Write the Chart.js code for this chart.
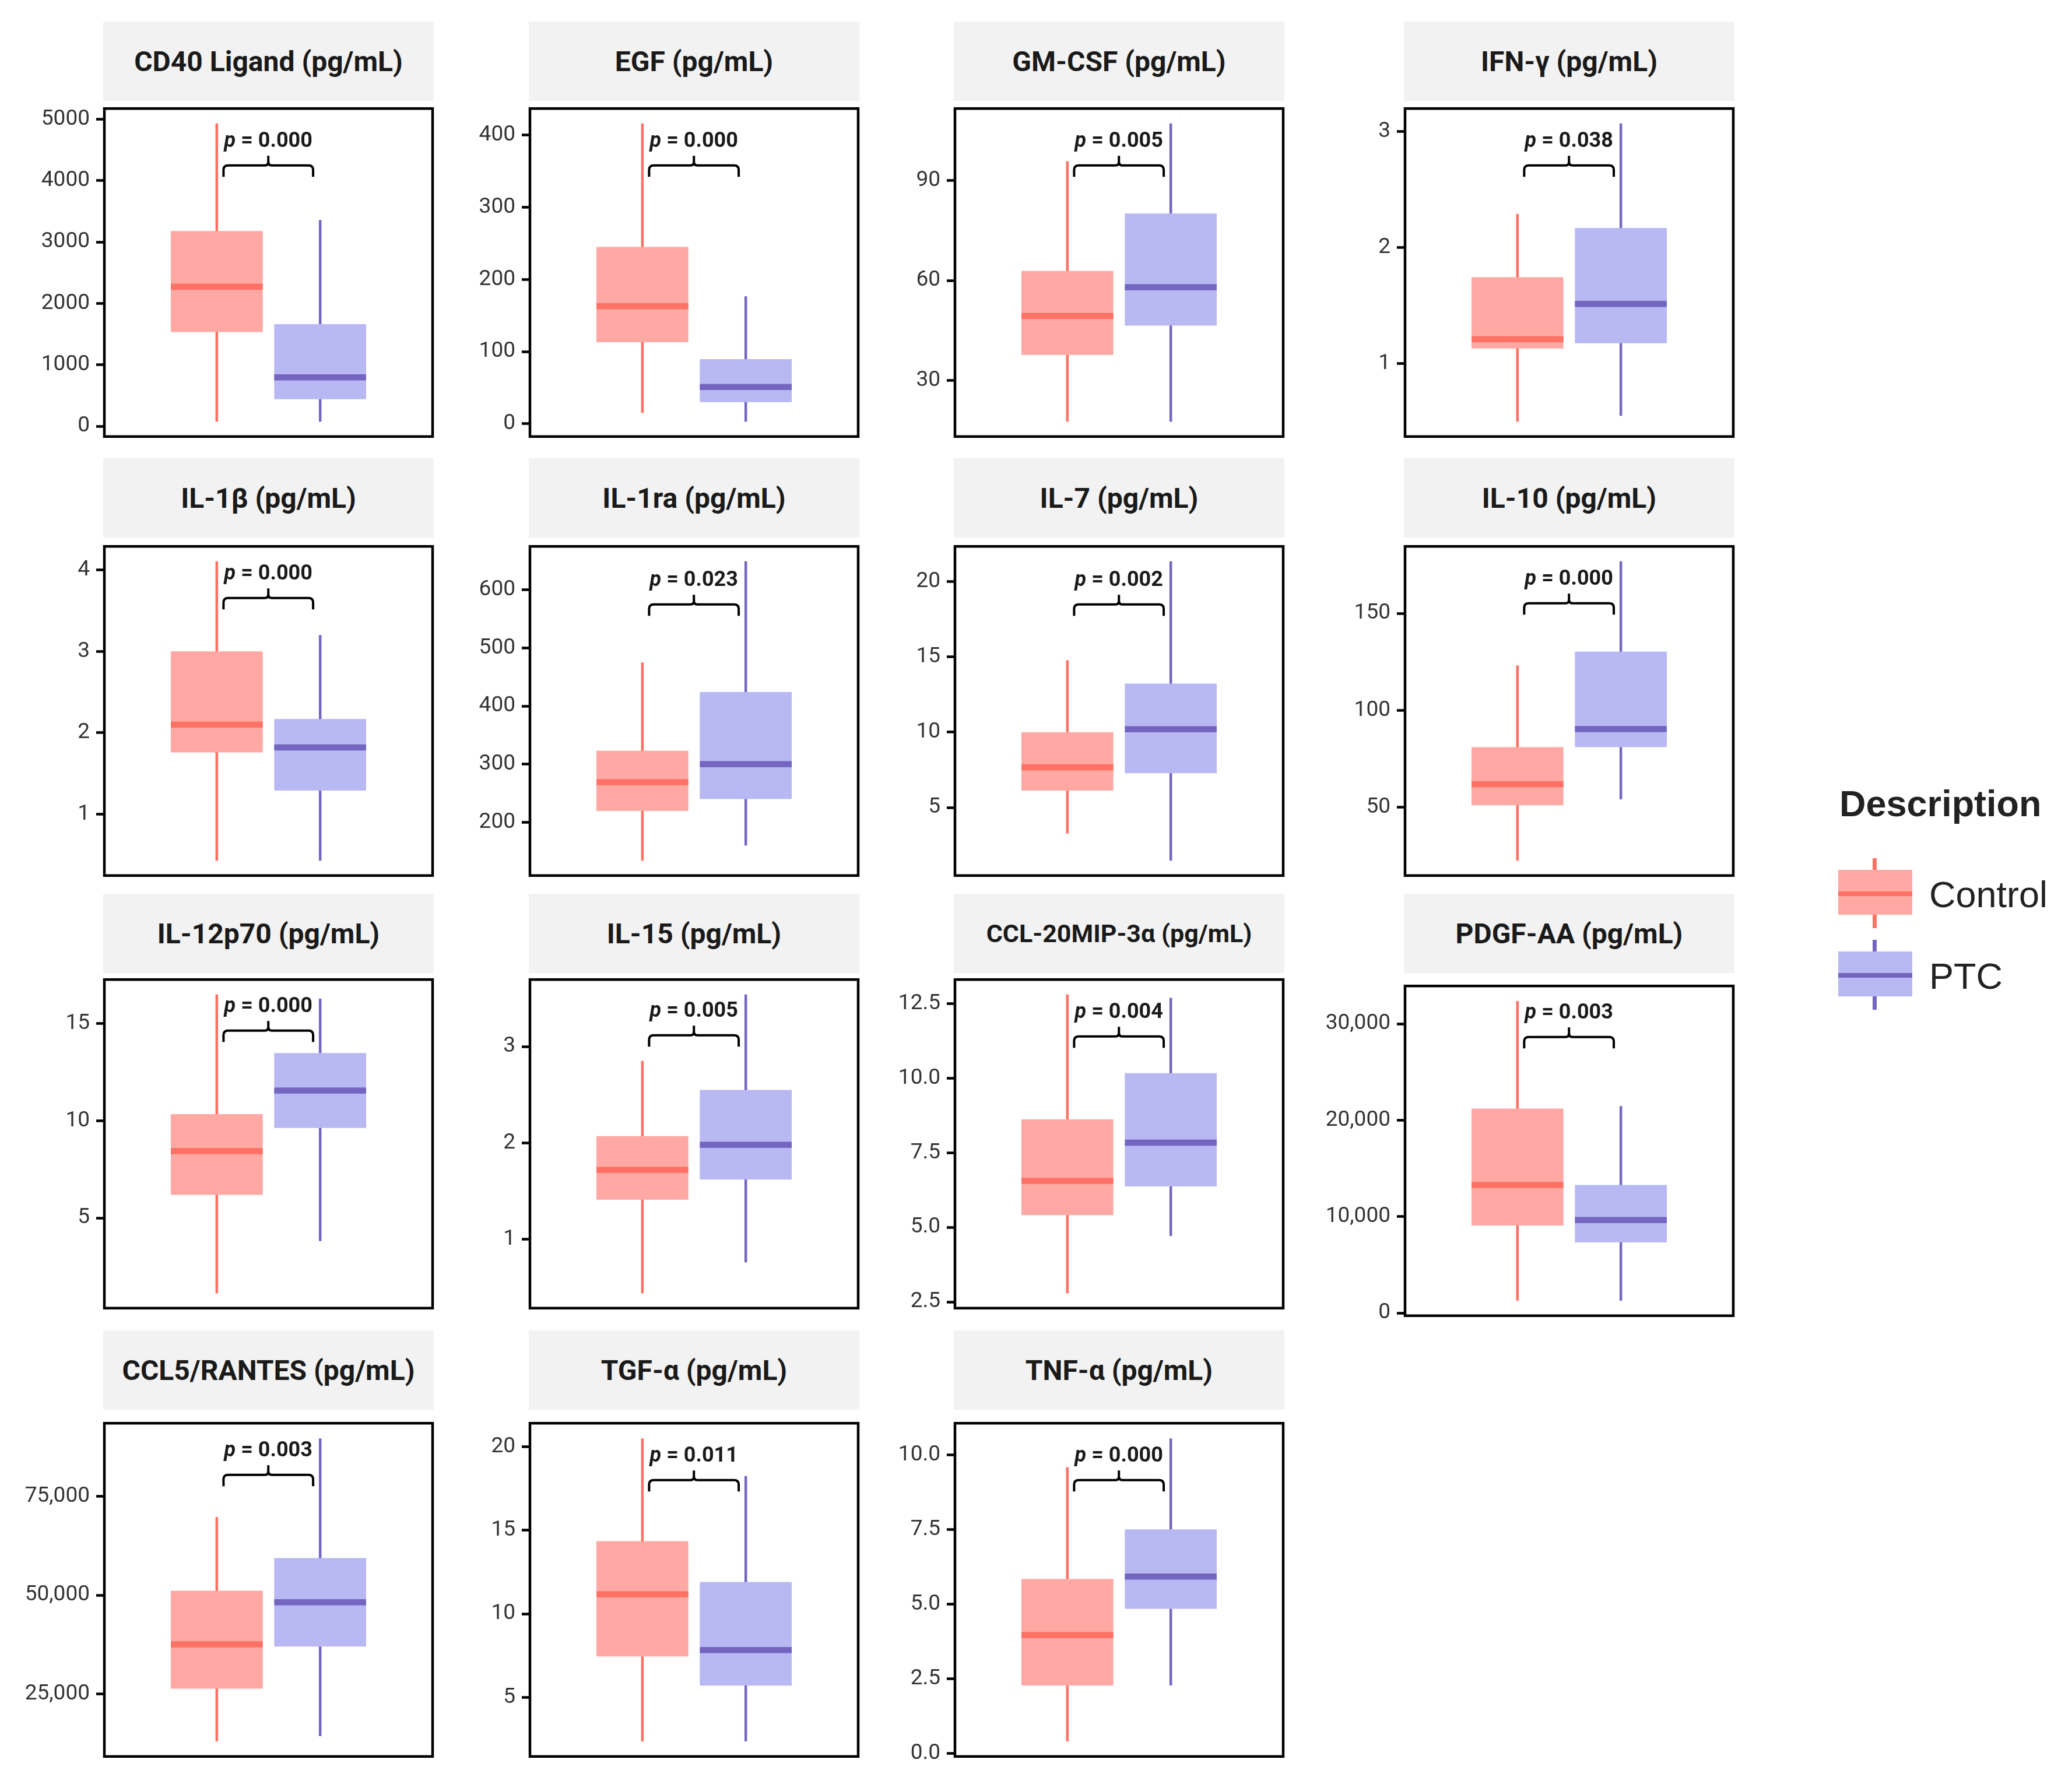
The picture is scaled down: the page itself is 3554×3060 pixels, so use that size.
<html>
<head>
<script src="https://cdn.jsdelivr.net/npm/chart.js@4.4.1/dist/chart.umd.min.js"></script>
<style>
  body { margin: 0; background: #fff; }
  #page { position: relative; width: 3554px; height: 3060px; background: #fff; overflow: hidden; }
  .strip { position: absolute; background: #f2f2f2; color: #1a1a1a; font-family: Roboto, sans-serif;
           font-weight: bold; font-size: 48px; display: flex; align-items: center; justify-content: center; white-space: nowrap; }
  canvas { position: absolute; }
  .lg { position: absolute; font-family: "Liberation Sans", Arial, sans-serif; color: #222; line-height: 63px; font-size: 63px; white-space: nowrap; }
  .key { position: absolute; }
</style>
</head>
<body>
<div id="page"></div>

<script>
// ---- data ----
var panelTitles = [
  'CD40 Ligand (pg/mL)', 'EGF (pg/mL)', 'GM-CSF (pg/mL)', 'IFN-γ (pg/mL)',
  'IL-1β (pg/mL)', 'IL-1ra (pg/mL)', 'IL-7 (pg/mL)', 'IL-10 (pg/mL)',
  'IL-12p70 (pg/mL)', 'IL-15 (pg/mL)', 'CCL-20MIP-3α (pg/mL)', 'PDGF-AA (pg/mL)',
  'CCL5/RANTES (pg/mL)', 'TGF-α (pg/mL)', 'TNF-α (pg/mL)'
];

var pValues = ['0.000', '0.000', '0.005', '0.038', '0.000', '0.023', '0.002', '0.000',
               '0.000', '0.005', '0.004', '0.003', '0.003', '0.011', '0.000'];

// [lower whisker, q1, median, q3, upper whisker]
var controlStats = [
  [75, 1534, 2272, 3178, 4930],
  [15, 113, 163, 245, 416],
  [17.7, 37.7, 49.4, 62.9, 95.8],
  [0.50, 1.13, 1.21, 1.745, 2.29],
  [0.43, 1.76, 2.10, 3.00, 4.106],
  [134, 219.5, 269, 323, 475],
  [3.27, 6.13, 7.67, 10.0, 14.78],
  [22.6, 51.1, 62.0, 81.1, 123.2],
  [1.13, 6.19, 8.44, 10.34, 16.49],
  [0.44, 1.41, 1.72, 2.07, 2.85],
  [2.79, 5.41, 6.56, 8.62, 12.81],
  [1270, 9080, 13280, 21210, 32370],
  [13000, 26350, 37570, 51150, 69820],
  [2.37, 7.45, 11.17, 14.35, 20.5],
  [0.41, 2.28, 3.97, 5.85, 9.59]
];

var ptcStats = [
  [75, 441, 796, 1663, 3356],
  [3, 30, 51, 89.5, 176.5],
  [17.7, 46.5, 58.0, 80.1, 107.1],
  [0.55, 1.176, 1.515, 2.17, 3.07],
  [0.43, 1.29, 1.82, 2.17, 3.20],
  [160, 240, 300, 424, 649],
  [1.48, 7.28, 10.2, 13.23, 21.34],
  [54.2, 81.1, 90.4, 130.3, 176.8],
  [3.81, 9.63, 11.55, 13.48, 16.28],
  [0.76, 1.62, 1.98, 2.55, 3.54],
  [4.71, 6.37, 7.84, 10.17, 12.70],
  [1270, 7320, 9640, 13280, 21460],
  [14330, 37000, 48220, 59410, 89730],
  [2.37, 5.70, 7.83, 11.91, 18.25],
  [2.28, 4.85, 5.93, 7.51, 10.56]
];

var tickValues = [
  [0, 1000, 2000, 3000, 4000, 5000],
  [0, 100, 200, 300, 400],
  [30, 60, 90],
  [1, 2, 3],
  [1, 2, 3, 4],
  [200, 300, 400, 500, 600],
  [5, 10, 15, 20],
  [50, 100, 150],
  [5, 10, 15],
  [1, 2, 3],
  [2.5, 5, 7.5, 10, 12.5],
  [0, 10000, 20000, 30000],
  [25000, 50000, 75000],
  [5, 10, 15, 20],
  [0, 2.5, 5, 7.5, 10]
];

var tickLabels = [
  ['0', '1000', '2000', '3000', '4000', '5000'],
  ['0', '100', '200', '300', '400'],
  ['30', '60', '90'],
  ['1', '2', '3'],
  ['1', '2', '3', '4'],
  ['200', '300', '400', '500', '600'],
  ['5', '10', '15', '20'],
  ['50', '100', '150'],
  ['5', '10', '15'],
  ['1', '2', '3'],
  ['2.5', '5.0', '7.5', '10.0', '12.5'],
  ['0', '10,000', '20,000', '30,000'],
  ['25,000', '50,000', '75,000'],
  ['5', '10', '15', '20'],
  ['0.0', '2.5', '5.0', '7.5', '10.0']
];

var groups = ['Control', 'PTC'];

// ---- look ----
var boxColors = ['#ffa8a4', '#b8b8f2'];
var lineColors = ['#ff7164', '#7466c0'];

// panel geometry (px in the 3554x3060 page)
var colLeft = [177, 907, 1636, 2408];
var stripW = 567;
var panelW = 563;
var rowTop = [183, 934, 1677, 2438];
var rowBottom = [752, 1505, 2247, 3016];
var stripTop = [37, 786, 1533, 2282];
var stripH = 136;
var axisW = 170;
var padV = 30;
// vertical nudge of the p-value bracket per panel (px)
var annotShift = [0, 0, 0, 0, -9, 2, 2, 0, -10, -2, 0, -10, -9, 0, 0];

var page = document.getElementById('page');

var boxExtras = {
  id: 'boxExtras',
  afterDatasetsDraw: function(chart, args, opts) {
    var ctx = chart.ctx, y = chart.scales.y;
    [0, 1].forEach(function(i) {
      var el = chart.getDatasetMeta(i).data[0];
      var py = y.getPixelForValue(opts.medians[i]);
      ctx.save();
      ctx.fillStyle = lineColors[i];
      ctx.fillRect(el.x - el.width / 2, py - 5.25, el.width, 10.5);
      ctx.restore();
    });
  },
  afterDraw: function(chart, args, opts) {
    var ctx = chart.ctx, a = chart.chartArea;
    var w = a.right - a.left;
    ctx.save();
    // panel border
    ctx.strokeStyle = '#000';
    ctx.lineWidth = 4.5;
    ctx.strokeRect(a.left, a.top, w, a.bottom - a.top);

    // bracket
    var x0 = a.left + 0.363 * w, x1 = a.left + 0.636 * w, xc = (x0 + x1) / 2;
    var t = a.top + opts.shift;
    ctx.lineWidth = 4;
    ctx.lineCap = 'butt';
    ctx.beginPath();
    ctx.moveTo(x0, t + 117);
    ctx.lineTo(x0, t + 105);
    ctx.quadraticCurveTo(x0, t + 97.5, x0 + 8, t + 97.5);
    ctx.lineTo(xc - 6, t + 97.5);
    ctx.quadraticCurveTo(xc, t + 97.5, xc, t + 91);
    ctx.lineTo(xc, t + 81);
    ctx.moveTo(xc, t + 91);
    ctx.quadraticCurveTo(xc, t + 97.5, xc + 6, t + 97.5);
    ctx.lineTo(x1 - 8, t + 97.5);
    ctx.quadraticCurveTo(x1, t + 97.5, x1, t + 105);
    ctx.lineTo(x1, t + 117);
    ctx.stroke();

    // p label
    var pFont = 'italic bold 36px Roboto';
    var restFont = 'bold 36px Roboto';
    var rest = ' = ' + opts.p;
    ctx.font = pFont;
    var wp = ctx.measureText('p').width;
    ctx.font = restFont;
    var wr = ctx.measureText(rest).width;
    var sx = xc - (wp + wr) / 2;
    ctx.fillStyle = '#1a1a1a';
    ctx.textBaseline = 'alphabetic';
    ctx.textAlign = 'left';
    ctx.font = pFont;
    ctx.fillText('p', sx, t + 66);
    ctx.font = restFont;
    ctx.fillText(rest, sx + wp, t + 66);
    ctx.restore();
  }
};

panelTitles.forEach(function(title, k) {
  var col = k % 4, row = Math.floor(k / 4);
  var left = colLeft[col] + 2;
  var top = rowTop[row], bottom = rowBottom[row];
  if (k === 11) { top = 1688; bottom = 2260; }
  var h = bottom - top;

  var strip = document.createElement('div');
  strip.className = 'strip';
  strip.style.left = colLeft[col] + 'px';
  strip.style.top = stripTop[row] + 'px';
  strip.style.width = stripW + 'px';
  strip.style.height = stripH + 'px';
  if (k === 10) strip.style.fontSize = '43px';
  strip.textContent = title;
  page.appendChild(strip);

  var cv = document.createElement('canvas');
  cv.width = axisW + panelW + 6;
  cv.height = h + 2 * padV;
  cv.style.left = (left - axisW) + 'px';
  cv.style.top = (top - padV) + 'px';
  page.appendChild(cv);

  var c = controlStats[k], p = ptcStats[k];
  var lo = Math.min(c[0], p[0]), hi = Math.max(c[4], p[4]);
  var ext = (hi - lo) * 0.05;
  var ticks = tickValues[k], labels = tickLabels[k];

  new Chart(cv, {
    type: 'bar',
    data: {
      labels: [''],
      datasets: [
        { label: groups[0], stack: 'c', data: [[c[1], c[3]]], backgroundColor: boxColors[0],
          barPercentage: 0.889, categoryPercentage: 0.63, borderWidth: 0 },
        { label: groups[1], stack: 'p', data: [[p[1], p[3]]], backgroundColor: boxColors[1],
          barPercentage: 0.889, categoryPercentage: 0.63, borderWidth: 0 },
        { label: groups[0] + ' range', stack: 'c', data: [[c[0], c[4]]], backgroundColor: lineColors[0],
          maxBarThickness: 4.5, categoryPercentage: 0.63, borderWidth: 0 },
        { label: groups[1] + ' range', stack: 'p', data: [[p[0], p[4]]], backgroundColor: lineColors[1],
          maxBarThickness: 4.5, categoryPercentage: 0.63, borderWidth: 0 }
      ]
    },
    options: {
      responsive: false,
      animation: false,
      devicePixelRatio: 1,
      events: [],
      layout: { padding: { top: padV, bottom: padV, left: 0, right: 6 } },
      scales: {
        x: { display: false },
        y: {
          stacked: false,
          min: lo - ext,
          max: hi + ext,
          afterBuildTicks: function(s) { s.ticks = ticks.map(function(v) { return { value: v }; }); },
          afterFit: function(s) { s.width = axisW; },
          border: { display: false },
          grid: { drawOnChartArea: false, drawTicks: true, tickLength: 14, tickWidth: 4.5, tickColor: '#000' },
          ticks: {
            autoSkip: false,
            padding: 11,
            color: '#333',
            font: { family: 'Roboto', size: 37 },
            callback: function(v) { var i = ticks.indexOf(v); return i >= 0 ? labels[i] : ''; }
          }
        }
      },
      plugins: {
        legend: { display: false },
        tooltip: { enabled: false },
        boxExtras: { medians: [c[2], p[2]], p: pValues[k], shift: annotShift[k] }
      }
    },
    plugins: [boxExtras]
  });
});

// ---- legend ----
function addDiv(cls, css, text) {
  var d = document.createElement('div');
  d.className = cls;
  for (var key in css) d.style[key] = css[key];
  if (text) d.textContent = text;
  page.appendChild(d);
  return d;
}
addDiv('lg', { left: '3155px', top: '1347px', fontWeight: 'bold' }, 'Description');
var keyTops = [1492, 1632];
groups.forEach(function(g, i) {
  var bt = keyTops[i];
  addDiv('key', { left: '3212px', top: (bt - 20) + 'px', width: '7px', height: '120px', background: lineColors[i] });
  addDiv('key', { left: '3153px', top: bt + 'px', width: '127px', height: '77px', background: boxColors[i] });
  addDiv('key', { left: '3153px', top: (bt + 37) + 'px', width: '127px', height: '8px', background: lineColors[i] });
  addDiv('lg', { left: '3309px', top: (bt + 11) + 'px' }, g);
});
</script>
</body>
</html>
